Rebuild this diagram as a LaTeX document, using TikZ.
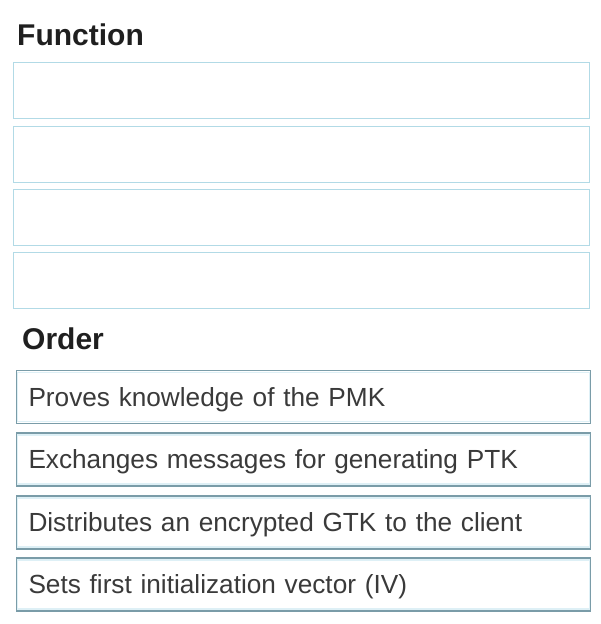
\documentclass[tikz,border=0pt]{standalone}
\usepackage{fontspec}
\setmainfont{Liberation Sans}
\usepackage{tikz}

\definecolor{fnline}{RGB}{178,218,230}
\definecolor{ordline}{RGB}{122,156,168}
\definecolor{ordin}{RGB}{222,240,246}
\definecolor{txt}{RGB}{58,58,58}

\begin{document}
\begin{tikzpicture}[x=1pt,y=-1pt]
\tikzstyle{fnbox}=[draw=fnline,line width=1pt,fill=white,minimum width=576pt,minimum height=56pt,inner sep=0pt];
\tikzstyle{ordbox}=[draw=ordline,line width=1.6pt,fill=white,text width=550pt,align=left,minimum height=53pt,inner xsep=12pt,inner ysep=0pt,text=txt,font=\fontsize{26.2}{30}\selectfont];
\tikzstyle{edge}=[draw=ordin,line width=1.2pt,inner sep=0pt,minimum width=572pt,minimum height=49pt];
\tikzstyle{label}=[ordbox,draw=none,fill=none,yshift=-2.5pt];
\tikzstyle{head}=[anchor=base west,inner sep=0pt,font=\bfseries\fontsize{30}{34}\selectfont,text=black!88];

\useasboundingbox (0,0) rectangle (600,624);
\fill[white] (0,0) rectangle (600,624);

\node [head] (fn) at (17,45) {Function};
\node [fnbox] (f1) at (301,90) {};
\node [fnbox] (f2) at (301,154) {};
\node [fnbox] (f3) at (301,217) {};
\node [fnbox] (f4) at (301,280) {};

\node [head] (ord) at (22,349) {Order};
\node [ordbox] (o1) at (303.5,397) {};
\node [ordbox] (o2) at (303.5,459.5) {};
\node [ordbox] (o3) at (303.5,522.5) {};
\node [ordbox] (o4) at (303.5,584.5) {};
\foreach \o in {o1,o2,o3,o4}
  \node [edge] at (\o) {};
\node [label] (t1) at (o1) {Proves knowledge of the PMK};
\node [label] (t2) at (o2) {Exchanges messages for generating PTK};
\node [label] (t3) at (o3) {Distributes an encrypted GTK to the client};
\node [label] (t4) at (o4) {Sets first initialization vector (IV)};
\end{tikzpicture}
\end{document}
